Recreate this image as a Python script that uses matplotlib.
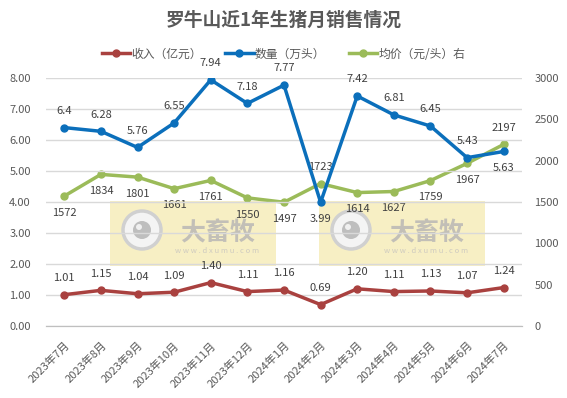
import matplotlib
matplotlib.use("Agg")
import matplotlib.pyplot as plt
from matplotlib.patches import Rectangle, Circle
from matplotlib.transforms import IdentityTransform

plt.rcParams['font.family'] = ['Noto Sans CJK SC', 'DejaVu Sans']

months = ["2023年7月", "2023年8月", "2023年9月", "2023年10月", "2023年11月", "2023年12月",
          "2024年1月", "2024年2月", "2024年3月", "2024年4月", "2024年5月", "2024年6月", "2024年7月"]
income = [1.01, 1.15, 1.04, 1.09, 1.40, 1.11, 1.16, 0.69, 1.20, 1.11, 1.13, 1.07, 1.24]
income_lbl = ["1.01", "1.15", "1.04", "1.09", "1.40", "1.11", "1.16", "0.69", "1.20", "1.11", "1.13", "1.07", "1.24"]
quantity = [6.4, 6.28, 5.76, 6.55, 7.94, 7.18, 7.77, 3.99, 7.42, 6.81, 6.45, 5.43, 5.63]
price = [1572, 1834, 1801, 1661, 1761, 1550, 1497, 1723, 1614, 1627, 1759, 1967, 2197]

c_inc = "#A9413F"
c_qty = "#0B6FBB"
c_prc = "#9BBB59"
txt = "#404040"

W, H = 567, 398
fig = plt.figure(figsize=(W/100, H/100), dpi=100)
ax = fig.add_axes([46/W, 1-326/H, 476/W, 248/H])
ax2 = ax.twinx()

x = list(range(len(months)))

ax.set_xlim(-0.5, len(months)-0.5)
ax.set_ylim(0, 8)
ax2.set_ylim(0, 3000)
ax.set_yticks([i for i in range(9)])
ax.set_yticklabels([f"{i:.2f}" for i in range(9)])
ax2.set_yticks(range(0, 3001, 500))
ax.grid(axis='y', color="#D9D9D9", linewidth=1)
ax.set_axisbelow(True)

for a in (ax, ax2):
    for s in ("left", "right", "top"):
        a.spines[s].set_visible(False)
    a.spines["bottom"].set_color("#BFBFBF")
    a.tick_params(axis='y', length=0, labelsize=8, labelcolor="#595959")
ax.tick_params(axis='y', pad=11)
ax2.tick_params(axis='y', pad=9)

ax.set_xticks([i - 0.5 for i in range(len(months)+1)], minor=False)
ax.set_xticklabels([])
ax.tick_params(axis='x', length=3, color="#BFBFBF")
ax.set_xticks(x, minor=True)
ax.set_xticklabels(months, minor=True, rotation=45, ha='right', va='top',
                   rotation_mode='anchor', fontsize=8, color="#595959")
ax.tick_params(axis='x', which='minor', length=0, pad=10)
ax2.set_xticks([])

# watermark boxes (drawn in the lower axes, beneath the lines and labels)
for (x0, x1) in [(110, 276), (319, 485)]:
    ax2.add_patch(Rectangle((x0/W, 1-266/H), (x1-x0)/W, 65/H,
                            transform=fig.transFigure, facecolor="#F6EDBA",
                            edgecolor="none", alpha=0.85, zorder=0.5, clip_on=False))
    cx, cy = x0 + 32, H - 230
    ax2.add_patch(Circle((cx, cy), 19, transform=IdentityTransform(),
                         facecolor="#F4F4F4", edgecolor="#D0D0D0", linewidth=2.5,
                         zorder=0.6, clip_on=False))
    ax2.add_patch(Circle((cx, cy), 9, transform=IdentityTransform(),
                         facecolor="#BEBEBE", edgecolor="none", zorder=0.7, clip_on=False))
    ax2.add_patch(Circle((cx - 3, cy + 3), 3, transform=IdentityTransform(),
                         facecolor="#F0F0F0", edgecolor="none", zorder=0.8, clip_on=False))
    ax2.text((x0 + 108)/W, 1-233/H, "大畜牧", fontsize=18, fontweight='bold',
             color="#C2BFB7", ha='center', va='center', zorder=0.7,
             transform=fig.transFigure)
    ax2.text((x0 + 107)/W, 1-251/H, "w w w . d x u m u . c o m", fontsize=5.5,
             color="#CFCBC0", ha='center', va='center', zorder=0.7,
             transform=fig.transFigure)

l1, = ax.plot(x, income, color=c_inc, linewidth=2.5, marker='o', markersize=5, zorder=3)
l2, = ax.plot(x, quantity, color=c_qty, linewidth=2.5, marker='o', markersize=5, zorder=3)
l3, = ax2.plot(x, price, color=c_prc, linewidth=2.5, marker='o', markersize=5, zorder=3)
ax.set_zorder(ax2.get_zorder() + 1)
ax.patch.set_visible(False)

fs = 8
off = 12
for i in x:
    ax.annotate(income_lbl[i], (i, income[i]), xytext=(0, off), textcoords='offset points',
                ha='center', va='center', fontsize=fs, color=txt)
    dy = -off if quantity[i] in (3.99, 5.63) else off
    ax.annotate(str(quantity[i]), (i, quantity[i]), xytext=(0, dy), textcoords='offset points',
                ha='center', va='center', fontsize=fs, color=txt)
    dy = off if price[i] in (1723, 2197) else -off
    ax2.annotate(str(price[i]), (i, price[i]), xytext=(0, dy), textcoords='offset points',
                 ha='center', va='center', fontsize=fs, color=txt)

fig.text(0.5, 1-20/H, "罗牛山近1年生猪月销售情况", ha='center', va='center',
         fontsize=13.5, fontweight='bold', color="#595959")

fig.legend([l1, l2, l3], ["收入（亿元）", "数量（万头）", "均价（元/头）右"],
           loc='center', bbox_to_anchor=(0.5, 1-54/H), ncol=3, frameon=False,
           fontsize=8.5, labelcolor="#595959", handlelength=2.4, columnspacing=2.0,
           handletextpad=0.1)

fig.savefig("out.png", dpi=100)
